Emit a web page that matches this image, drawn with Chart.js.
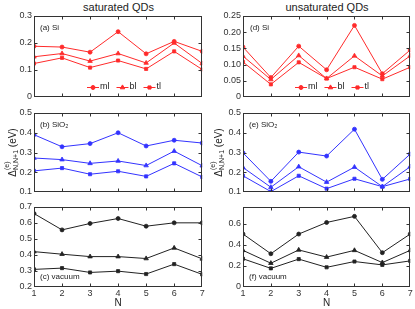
<!DOCTYPE html>
<html>
<head>
<meta charset="utf-8">
<script src="https://cdn.jsdelivr.net/npm/chart.js@4.4.1/dist/chart.umd.min.js"></script>
<style>
body { margin: 0; background: #fff; width: 415px; height: 309px; position: relative; overflow: hidden; font-family: "Liberation Sans", Arial, sans-serif; }
canvas { position: absolute; }
.title { position: absolute; top: 0; font-size: 11px; line-height: 14px; color: #222; text-align: center; }
</style>
</head>
<body>
<div class="title" style="left:34px;width:169px">saturated QDs</div>
<div class="title" style="left:243px;width:168px">unsaturated QDs</div>
<script>
// N values on the x axis
var nValues = [1, 2, 3, 4, 5, 6, 7];
var seriesNames = ['ml', 'bl', 'tl'];

// y ticks per panel
var ticksSatSi = [0, 0.1, 0.2, 0.3];
var ticksUnsatSi = [0, 0.05, 0.1, 0.15, 0.2, 0.25];
var ticksSiO2 = [0.1, 0.2, 0.3, 0.4, 0.5];
var ticksSatVac = [0.2, 0.3, 0.4, 0.5, 0.6, 0.7];
var ticksUnsatVac = [0, 0.2, 0.4, 0.6];

// (a) saturated, Si
var satSiMl = [0.188, 0.185, 0.166, 0.242, 0.160, 0.206, 0.169];
var satSiBl = [0.149, 0.161, 0.133, 0.161, 0.126, 0.200, 0.124];
var satSiTl = [0.124, 0.145, 0.109, 0.135, 0.104, 0.169, 0.102];
// (b) saturated, SiO2
var satOxMl = [0.390, 0.329, 0.345, 0.400, 0.333, 0.362, 0.348];
var satOxBl = [0.272, 0.264, 0.245, 0.257, 0.234, 0.307, 0.233];
var satOxTl = [0.207, 0.221, 0.190, 0.205, 0.179, 0.245, 0.176];
// (c) saturated, vacuum
var satVacMl = [0.659, 0.557, 0.597, 0.628, 0.580, 0.601, 0.601];
var satVacBl = [0.421, 0.405, 0.390, 0.390, 0.378, 0.444, 0.376];
var satVacTl = [0.310, 0.318, 0.291, 0.299, 0.281, 0.343, 0.279];
// (d) unsaturated, Si
var unsatSiMl = [0.154, 0.060, 0.157, 0.084, 0.221, 0.072, 0.145];
var unsatSiBl = [0.126, 0.054, 0.128, 0.057, 0.127, 0.065, 0.127];
var unsatSiTl = [0.108, 0.039, 0.107, 0.057, 0.092, 0.055, 0.092];
// (e) unsaturated, SiO2
var unsatOxMl = [0.298, 0.154, 0.302, 0.282, 0.418, 0.164, 0.292];
var unsatOxBl = [0.224, 0.124, 0.228, 0.150, 0.226, 0.127, 0.228];
var unsatOxTl = [0.182, 0.102, 0.182, 0.117, 0.167, 0.127, 0.166];
// (f) unsaturated, vacuum
var unsatVacMl = [0.503, 0.316, 0.503, 0.613, 0.671, 0.326, 0.503];
var unsatVacBl = [0.348, 0.226, 0.352, 0.284, 0.348, 0.232, 0.348];
var unsatVacTl = [0.268, 0.177, 0.265, 0.187, 0.242, 0.210, 0.248];

var FONT = '"Liberation Sans", Arial, sans-serif';
var markers = ['circle', 'triangle', 'rect'];
var markerSize = [2, 2.6, 2.2];

// frame with inward ticks, panel tag, legend and y title
var framePlugin = {
    id: 'frame',
    afterDatasetsDraw: function (chart, args, o) {
        var ctx = chart.ctx, a = chart.chartArea;
        var xs = chart.scales.x, ys = chart.scales.y;
        var L = Math.round(a.left) + 0.5, R = Math.round(a.right) - 0.5;
        var T = Math.round(a.top) + 0.5, B = Math.round(a.bottom) - 0.5;
        ctx.save();
        ctx.strokeStyle = '#333';
        ctx.lineWidth = 1;
        ctx.strokeRect(L, T, R - L, B - T);
        ctx.beginPath();
        xs.ticks.forEach(function (t) {
            var px = Math.round(xs.getPixelForValue(t.value)) + 0.5;
            if (px <= L + 1 || px >= R - 1) return;
            ctx.moveTo(px, B); ctx.lineTo(px, B - 3);
            ctx.moveTo(px, T); ctx.lineTo(px, T + 3);
        });
        ys.ticks.forEach(function (t) {
            var py = Math.round(ys.getPixelForValue(t.value)) + 0.5;
            if (py <= T + 1 || py >= B - 1) return;
            ctx.moveTo(L, py); ctx.lineTo(L + 3, py);
            ctx.moveTo(R, py); ctx.lineTo(R - 3, py);
        });
        ctx.stroke();

        // panel tag
        ctx.fillStyle = '#222';
        ctx.font = '8px ' + FONT;
        ctx.textBaseline = 'middle';
        ctx.textAlign = 'left';
        var ty = o.tagBottom ? a.bottom - 10 : a.top + 12;
        ctx.fillText(o.tag, a.left + o.tagX, ty);

        // legend
        if (o.legend) {
            var lx = a.left + o.legendX, ly = a.bottom - 10;
            ctx.font = '9px ' + FONT;
            chart.data.datasets.forEach(function (ds) {
                ctx.strokeStyle = ds.borderColor;
                ctx.beginPath();
                ctx.moveTo(lx, ly + 0.5); ctx.lineTo(lx + 12, ly + 0.5);
                ctx.stroke();
                ctx.fillStyle = ds.borderColor;
                Chart.helpers.drawPoint(ctx, { pointStyle: ds.pointStyle, radius: ds.pointRadius, rotation: 0, borderWidth: 1 }, lx + 6, ly + 0.5);
                ctx.fillStyle = '#222';
                ctx.fillText(ds.label, lx + 13, ly);
                lx += 13 + ctx.measureText(ds.label).width + 7;
            });
        }

        // y axis title
        if (o.yTitle) {
            ctx.translate(o.yTitleX, (a.top + a.bottom) / 2);
            ctx.rotate(-Math.PI / 2);
            ctx.fillStyle = '#222';
            ctx.textBaseline = 'alphabetic';
            var big = '10px ' + FONT, small = '7px ' + FONT;
            ctx.font = big; var wD = ctx.measureText('\u0394').width;
            ctx.font = small; var wSub = ctx.measureText('N,N+1').width;
            ctx.font = big; var wU = ctx.measureText(' (eV)').width;
            var x0 = -(wD + wSub + wU) / 2, base = 4;
            ctx.font = big; ctx.fillText('\u0394', x0, base);
            ctx.font = small;
            ctx.fillText('(e)', x0 + wD, base - 7);
            ctx.fillText('N,N+1', x0 + wD, base + 2);
            ctx.font = big; ctx.fillText(' (eV)', x0 + wD + wSub, base);
        }
        ctx.restore();
    }
};

function makeDatasets(arrs, color) {
    return arrs.map(function (vals, i) {
        return {
            label: seriesNames[i],
            data: nValues.map(function (n, k) { return { x: n, y: vals[k] }; }),
            borderColor: color,
            backgroundColor: color,
            borderWidth: 1,
            pointStyle: markers[i],
            pointRadius: markerSize[i],
            pointBackgroundColor: color,
            pointBorderWidth: 0.8,
            tension: 0
        };
    });
}

function makePanel(p) {
    var cv = document.createElement('canvas');
    cv.width = p.w; cv.height = p.h;
    cv.style.left = p.left + 'px';
    cv.style.top = p.top + 'px';
    cv.style.width = p.w + 'px';
    cv.style.height = p.h + 'px';
    document.body.appendChild(cv);
    var bottom = p.bottomRow;
    new Chart(cv.getContext('2d'), {
        type: 'line',
        data: { datasets: makeDatasets(p.series, p.color) },
        options: {
            responsive: false,
            animation: false,
            devicePixelRatio: 1,
            layout: { padding: { top: 8, bottom: bottom ? 0 : 8, left: 0, right: 4 } },
            plugins: {
                legend: { display: false },
                tooltip: { enabled: false },
                frame: p.frame
            },
            scales: {
                x: {
                    type: 'linear', min: 1, max: 7,
                    afterBuildTicks: function (s) { s.ticks = nValues.map(function (v) { return { value: v }; }); },
                    afterFit: function (s) { s.height = bottom ? 22 : 0; },
                    ticks: { display: bottom, padding: 1, maxRotation: 0, autoSkip: false, color: '#333', font: { family: FONT, size: 9 } },
                    grid: { display: false, drawTicks: false },
                    border: { display: false },
                    title: { display: bottom, text: 'N', color: '#222', padding: 0, font: { family: FONT, size: 10 } }
                },
                y: {
                    type: 'linear', min: p.yMin, max: p.yMax,
                    afterBuildTicks: function (s) { s.ticks = p.yTicks.map(function (v) { return { value: v }; }); },
                    afterFit: function (s) { s.width = p.yWidth; },
                    ticks: { padding: 2, color: '#333', font: { family: FONT, size: 9 } },
                    grid: { display: false, drawTicks: false },
                    border: { display: false }
                }
            }
        },
        plugins: [framePlugin]
    });
}

var RED = '#ff2b2b', BLUE = '#3333ff', BLACK = '#222222';
var cols = [{ left: 0, w: 207, yWidth: 34, titleX: 12 }, { left: 207, w: 208, yWidth: 36, titleX: 11 }];
var rows = [{ top: 8, h: 97 }, { top: 105, h: 95 }, { top: 199, h: 110 }];

var panels = [
    { c: 0, r: 0, series: [satSiMl, satSiBl, satSiTl], color: RED, yMin: 0, yMax: 0.3, yTicks: ticksSatSi,
      frame: { tag: '(a) Si', tagX: 6, legend: true, legendX: 53 } },
    { c: 0, r: 1, series: [satOxMl, satOxBl, satOxTl], color: BLUE, yMin: 0.1, yMax: 0.5, yTicks: ticksSiO2,
      frame: { tag: '(b) SiO\u2082', tagX: 6, yTitle: true } },
    { c: 0, r: 2, series: [satVacMl, satVacBl, satVacTl], color: BLACK, yMin: 0.2, yMax: 0.7, yTicks: ticksSatVac,
      frame: { tag: '(c) vacuum', tagX: 6, tagBottom: true } },
    { c: 1, r: 0, series: [unsatSiMl, unsatSiBl, unsatSiTl], color: RED, yMin: 0, yMax: 0.25, yTicks: ticksUnsatSi,
      frame: { tag: '(d) Si', tagX: 7, legend: true, legendX: 52 } },
    { c: 1, r: 1, series: [unsatOxMl, unsatOxBl, unsatOxTl], color: BLUE, yMin: 0.1, yMax: 0.5, yTicks: ticksSiO2,
      frame: { tag: '(e) SiO\u2082', tagX: 6, yTitle: true } },
    { c: 1, r: 2, series: [unsatVacMl, unsatVacBl, unsatVacTl], color: BLACK, yMin: 0, yMax: 0.76, yTicks: ticksUnsatVac,
      frame: { tag: '(f) vacuum', tagX: 6, tagBottom: true } }
];

panels.forEach(function (p) {
    var col = cols[p.c], row = rows[p.r];
    p.left = col.left; p.w = col.w; p.yWidth = col.yWidth;
    p.top = row.top; p.h = row.h;
    p.bottomRow = p.r === 2;
    p.frame.yTitleX = col.titleX;
    makePanel(p);
});
</script>
</body>
</html>
